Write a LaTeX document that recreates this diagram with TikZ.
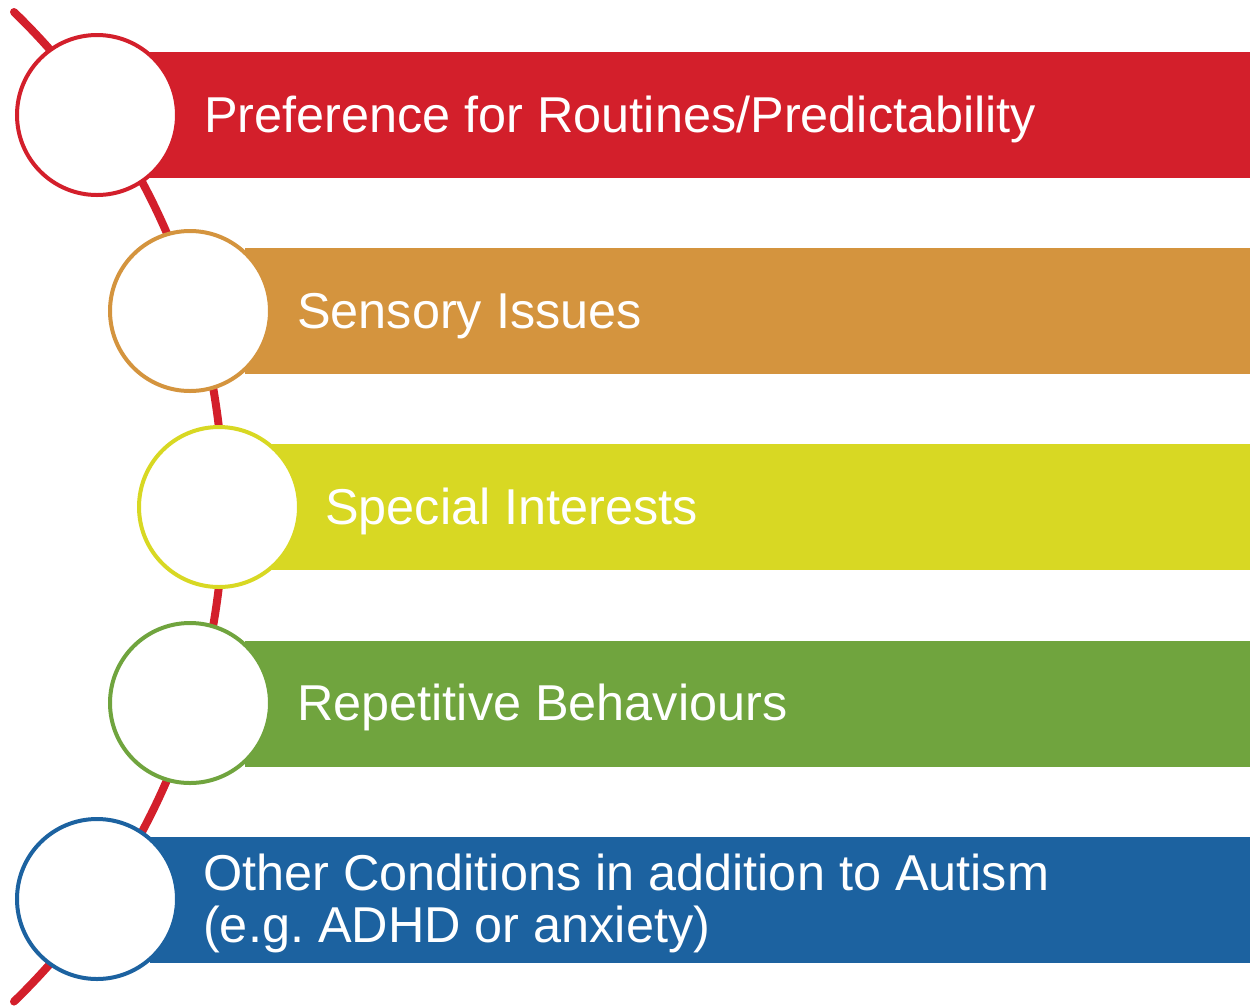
\documentclass[tikz,border=0pt]{standalone}
\usepackage{fontspec}
\setmainfont{Liberation Sans}
\frenchspacing
\definecolor{cRed}{HTML}{D31F2B}
\definecolor{cOrange}{HTML}{D4943E}
\definecolor{cYellow}{HTML}{D8D823}
\definecolor{cGreen}{HTML}{70A43E}
\definecolor{cBlue}{HTML}{1C62A0}
\tikzset{
  band/.style={fill=#1, draw=none},
  disc/.style={circle, fill=white, draw=#1, line width=4pt, minimum size=160pt, inner sep=0pt},
  label/.style={anchor=base west, text=white, font=\fontsize{50.4}{54}\selectfont, inner sep=0pt, align=left},
}
\begin{document}
\begin{tikzpicture}[x=1pt,y=-1pt]
\useasboundingbox (0,0) rectangle (1250,1005);
% colour bands
\fill[band=cRed]    (150,52)  rectangle (1250,178);
\fill[band=cOrange] (245,248) rectangle (1250,374);
\fill[band=cYellow] (272,444) rectangle (1250,570);
\fill[band=cGreen]  (245,641) rectangle (1250,767);
\fill[band=cBlue]   (150,837) rectangle (1250,963);
% the sweeping spine through the discs
\coordinate (arcTop) at (14,12);
\draw[cRed, line width=8pt, line cap=round] (arcTop) arc[start angle=-45.9, end angle=45.9, radius=689];
% discs
\node[disc=cRed]    (d1) at (97,115) {};
\node[disc=cOrange] (d2) at (190,311) {};
\node[disc=cYellow] (d3) at (219,507) {};
\node[disc=cGreen]  (d4) at (190,703) {};
\node[disc=cBlue]   (d5) at (97,899) {};
% labels
\node[label] (t1) at (204,132) {Preference for Routines/Predictability};
\node[label] (t2) at (297,328) {Sensory Issues};
\node[label] (t3) at (325,524) {Special Interests};
\node[label] (t4) at (297,720) {Repetitive Behaviours};
\node[label] (t5a) at (203,890) {Other Conditions in addition to Autism};
\node[label] (t5b) at (203,942) {(e.g. ADHD or anxiety)};
\end{tikzpicture}
\end{document}
